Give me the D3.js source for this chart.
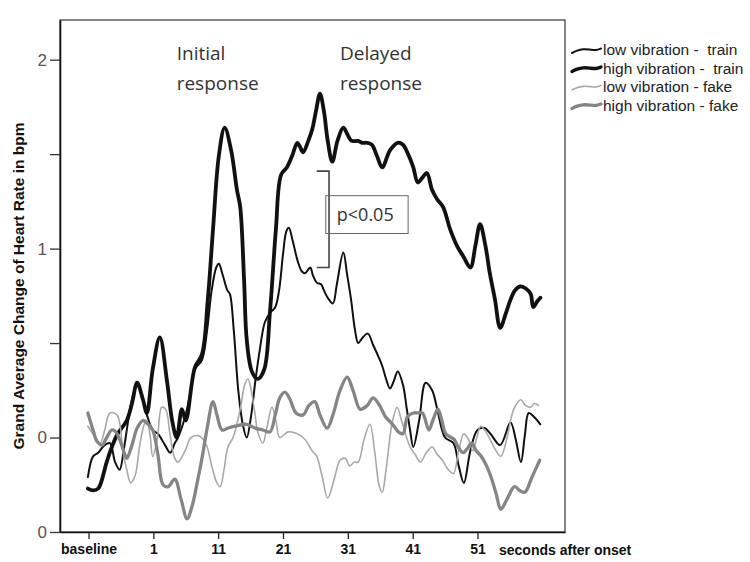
<!DOCTYPE html>
<html>
<head>
<meta charset="utf-8">
<script src="https://cdn.jsdelivr.net/npm/d3@7"></script>
<style>
  body { margin: 0; background: #fff; }
  svg { display: block; }
</style>
</head>
<body>
<script>
// [seconds, change in bpm]
const lowTrain = [
  [-9.1, -0.21], [-8.3, -0.10], [-7.5, -0.08], [-6.5, -0.04], [-5.7, -0.03], [-4.9, -0.13],
  [-4.2, -0.17], [-3.5, -0.05], [-2.6, 0.15], [-2.0, 0.24], [-1.4, 0.28], [-0.6, 0.20],
  [0.0, 0.12], [0.9, 0.04], [1.7, 0.02], [2.8, -0.04], [3.6, -0.08], [4.3, -0.03],
  [4.8, 0.00], [5.9, 0.11], [6.6, 0.22], [7.4, 0.36], [8.5, 0.41], [9.3, 0.57],
  [10.0, 0.78], [10.7, 0.90], [11.1, 0.92], [11.7, 0.86], [12.4, 0.78], [12.8, 0.76],
  [13.4, 0.57], [14.1, 0.25], [14.8, 0.07], [15.4, 0.00], [16.1, 0.12], [16.7, 0.29],
  [17.4, 0.46], [18.2, 0.61], [19.0, 0.66], [19.8, 0.69], [20.4, 0.78], [21.0, 0.97],
  [21.5, 1.09], [21.9, 1.11], [22.5, 1.04], [23.3, 0.93], [23.9, 0.88], [24.4, 0.87],
  [25.2, 0.90], [25.6, 0.86], [26.2, 0.82], [26.9, 0.81], [27.3, 0.78], [27.9, 0.74],
  [28.7, 0.71], [29.3, 0.81], [30.3, 0.98], [30.9, 0.86], [31.5, 0.73], [32.1, 0.57],
  [32.6, 0.50], [33.3, 0.53], [34.1, 0.55], [34.9, 0.49], [35.7, 0.43], [36.3, 0.38],
  [36.9, 0.31], [37.5, 0.26], [38.1, 0.30], [38.7, 0.35], [39.5, 0.28], [40.1, 0.15],
  [40.6, 0.04], [41.1, -0.05], [42.0, 0.09], [43.0, 0.29], [44.0, 0.25], [44.8, 0.15],
  [46.0, 0.00], [47.3, -0.03], [48.1, -0.15], [48.9, -0.24], [49.9, -0.07], [51.0, 0.04],
  [52.1, 0.05], [53.0, 0.02], [54.5, -0.04], [56.1, 0.08], [56.9, -0.01], [57.7, -0.13],
  [58.3, 0.01], [58.9, 0.13], [59.7, 0.11], [60.7, 0.07]
];

const highTrain = [
  [-9.1, -0.27], [-8.3, -0.28], [-7.5, -0.27], [-6.2, -0.13], [-5.4, -0.05], [-4.5, 0.02],
  [-3.1, 0.09], [-2.3, 0.18], [-1.5, 0.29], [-0.6, 0.20], [0.0, 0.13], [0.9, 0.36],
  [2.0, 0.53], [3.1, 0.30], [3.9, 0.09], [4.6, 0.00], [5.4, 0.15], [6.0, 0.09],
  [7.4, 0.37], [8.5, 0.44], [9.4, 0.73], [10.2, 1.10], [11.1, 1.49], [12.0, 1.64],
  [13.0, 1.52], [13.9, 1.31], [14.4, 1.22], [15.0, 0.83], [15.4, 0.52], [16.2, 0.35],
  [17.1, 0.31], [18.1, 0.36], [19.0, 0.67], [19.9, 1.10], [20.7, 1.39], [21.6, 1.43],
  [22.4, 1.49], [23.2, 1.56], [23.6, 1.54], [24.1, 1.51], [24.9, 1.57], [25.5, 1.63],
  [26.1, 1.73], [26.7, 1.82], [27.3, 1.73], [27.9, 1.57], [28.6, 1.46], [29.4, 1.57],
  [30.3, 1.64], [31.0, 1.60], [31.6, 1.57], [32.6, 1.57], [33.2, 1.56], [34.0, 1.56],
  [34.7, 1.55], [35.5, 1.49], [36.3, 1.43], [37.5, 1.52], [38.7, 1.56], [39.5, 1.55],
  [40.3, 1.50], [41.1, 1.43], [41.8, 1.35], [42.6, 1.38], [43.2, 1.40], [44.0, 1.31],
  [44.8, 1.26], [45.7, 1.22], [46.8, 1.10], [47.9, 1.01], [48.8, 0.96], [49.9, 0.90],
  [50.7, 1.02], [51.4, 1.13], [52.2, 1.02], [52.9, 0.87], [53.7, 0.73], [54.5, 0.58],
  [55.3, 0.65], [56.1, 0.73], [56.8, 0.78], [57.6, 0.80], [58.4, 0.79], [59.2, 0.76],
  [59.6, 0.69], [60.2, 0.72], [60.7, 0.74]
];

const lowFake = [
  [-9.1, 0.06], [-8.3, 0.02], [-7.2, -0.03], [-6.5, 0.04], [-5.7, 0.13], [-4.6, 0.12],
  [-3.7, -0.07], [-3.1, -0.17], [-2.5, -0.24], [-1.8, -0.20], [-1.1, -0.04], [-0.4, 0.07],
  [0.0, 0.09], [0.5, 0.01], [0.9, -0.10], [1.6, -0.01], [2.3, 0.16], [2.9, 0.15],
  [3.6, 0.01], [4.3, -0.11], [4.8, -0.13], [5.9, -0.07], [6.8, 0.00], [7.9, 0.01],
  [8.7, -0.01], [9.3, -0.05], [10.0, -0.15], [10.8, -0.24], [11.3, -0.26], [11.9, -0.17],
  [12.5, -0.05], [13.3, 0.00], [14.4, 0.15], [15.1, 0.28], [15.6, 0.31], [16.1, 0.25],
  [16.7, 0.12], [17.1, 0.03], [17.9, -0.03], [18.5, 0.05], [19.3, 0.16], [19.9, 0.09],
  [20.5, 0.00], [21.8, 0.03], [23.2, 0.02], [24.4, -0.01], [25.5, -0.07], [26.2, -0.10],
  [27.0, -0.20], [27.9, -0.32], [28.9, -0.22], [29.8, -0.12], [30.6, -0.11], [31.3, -0.15],
  [32.0, -0.13], [32.6, -0.13], [33.5, -0.01], [34.4, 0.07], [35.2, -0.09], [35.8, -0.25],
  [36.3, -0.29], [36.9, -0.17], [37.8, 0.07], [38.6, 0.16], [39.2, 0.10], [39.8, 0.03],
  [40.6, -0.05], [41.4, -0.09], [42.2, -0.13], [43.1, -0.08], [44.0, -0.05], [44.8, -0.09],
  [45.6, -0.12], [46.5, -0.17], [47.3, -0.19], [48.1, -0.07], [48.9, 0.02], [49.6, -0.01],
  [50.3, -0.07], [50.9, 0.00], [51.5, 0.06], [52.1, 0.04], [52.8, 0.00], [53.7, -0.06],
  [54.6, -0.10], [55.5, -0.01], [56.6, 0.15], [57.7, 0.20], [58.4, 0.17], [59.2, 0.16],
  [59.8, 0.18], [60.4, 0.17]
];

const highFake = [
  [-9.1, 0.13], [-8.3, 0.04], [-7.7, -0.02], [-6.9, -0.04], [-6.2, 0.00], [-5.4, 0.04],
  [-4.8, 0.03], [-4.2, -0.01], [-3.5, -0.08], [-3.1, -0.11], [-2.3, -0.04], [-1.5, 0.05],
  [-0.6, 0.09], [0.2, 0.07], [0.9, 0.04], [1.7, -0.09], [2.5, -0.25], [3.3, -0.26],
  [4.3, -0.22], [5.3, -0.33], [6.2, -0.43], [7.0, -0.36], [7.7, -0.25], [8.5, -0.11],
  [9.3, 0.05], [10.2, 0.19], [10.8, 0.12], [11.6, 0.04], [12.5, 0.05], [13.6, 0.06],
  [15.4, 0.07], [16.7, 0.05], [17.9, 0.04], [19.0, 0.03], [19.8, 0.12], [20.5, 0.21],
  [21.3, 0.24], [22.1, 0.20], [23.0, 0.13], [24.1, 0.12], [25.0, 0.17], [25.9, 0.19],
  [26.7, 0.12], [27.8, 0.05], [28.7, 0.12], [29.8, 0.25], [30.9, 0.32], [31.8, 0.25],
  [32.9, 0.15], [34.0, 0.17], [34.9, 0.21], [35.9, 0.17], [36.8, 0.11], [37.9, 0.07],
  [38.8, 0.03], [39.5, 0.02], [40.2, 0.11], [41.1, 0.13], [41.8, 0.13], [42.5, 0.13],
  [43.5, 0.04], [44.1, 0.09], [44.9, 0.15], [45.5, 0.09], [46.1, 0.02], [47.4, -0.01],
  [48.0, -0.05], [48.8, -0.08], [49.4, -0.06], [50.1, -0.03], [50.8, -0.07], [51.6, -0.10],
  [52.4, -0.15], [53.1, -0.21], [53.9, -0.30], [54.6, -0.38], [55.5, -0.33], [56.7, -0.26],
  [57.5, -0.28], [58.3, -0.29], [59.4, -0.21], [60.6, -0.12]
];

const seriesNames = ["low vibration -  train", "high vibration -  train", "low vibration - fake", "high vibration - fake"];
const seriesColors = ["#111", "#111", "#a8a8a8", "#858585"];
const seriesWidths = [2, 3.8, 1.6, 3.3];

const xTickValues = [-9, 1, 11, 21, 31, 41, 51];
const xTickLabels = ["baseline", "1", "11", "21", "31", "41", "51"];
const yTickValues = [2, 1.5, 1, 0.5, 0, -0.5];
const yTickLabels = ["2", "", "1", "", "0", "0"];

const width = 750, height = 562;
const plotLeft = 60, plotRight = 565, plotTop = 20, plotBottom = 532;

const x = d3.scaleLinear().domain([-13.4, 64.5]).range([plotLeft, plotRight]);
const y = d3.scaleLinear().domain([-0.5, 2.21]).range([plotBottom, plotTop]);

const svg = d3.select("body").append("svg")
  .attr("width", width)
  .attr("height", height)
  .attr("font-family", "Arial, 'Liberation Sans', sans-serif");

// frame
svg.append("rect")
  .attr("x", plotLeft)
  .attr("y", plotTop)
  .attr("width", plotRight - plotLeft)
  .attr("height", plotBottom - plotTop)
  .attr("fill", "none")
  .attr("stroke", "#333")
  .attr("stroke-width", 1.2);

// x axis
const xAxis = d3.axisBottom(x)
  .tickValues(xTickValues)
  .tickFormat((d, i) => xTickLabels[i])
  .tickSize(7)
  .tickSizeOuter(0)
  .tickPadding(5);

svg.append("g")
  .attr("transform", `translate(0,${plotBottom})`)
  .call(xAxis)
  .call(g => g.select(".domain").attr("stroke", "#111").attr("stroke-width", 1.6))
  .call(g => g.selectAll(".tick line").attr("stroke", "#222").attr("stroke-width", 1.3))
  .call(g => g.selectAll(".tick text")
    .attr("font-size", 14)
    .attr("font-weight", "bold")
    .attr("fill", "#111"));

svg.append("text")
  .attr("x", 499)
  .attr("y", plotBottom + 23)
  .attr("font-size", 14)
  .attr("font-weight", "bold")
  .attr("fill", "#111")
  .text("seconds after onset");

// y axis
const yAxis = d3.axisLeft(y)
  .tickValues(yTickValues)
  .tickFormat((d, i) => yTickLabels[i])
  .tickSize(10)
  .tickSizeOuter(0)
  .tickPadding(3);

svg.append("g")
  .attr("transform", `translate(${plotLeft},0)`)
  .call(yAxis)
  .call(g => g.select(".domain").attr("stroke", "#111").attr("stroke-width", 1.6))
  .call(g => g.selectAll(".tick line").attr("stroke", "#333").attr("stroke-width", 1.3))
  .call(g => g.selectAll(".tick text")
    .attr("font-size", 17)
    .attr("fill", "#555"));

svg.append("text")
  .attr("transform", `translate(19,${(plotTop + plotBottom) / 2 + 10}) rotate(-90)`)
  .attr("text-anchor", "middle")
  .attr("dy", "0.35em")
  .attr("font-size", 15.5)
  .attr("font-weight", "bold")
  .attr("fill", "#111")
  .text("Grand Average Change of Heart Rate in bpm");

// lines
const line = d3.line()
  .x(d => x(d[0]))
  .y(d => y(d[1]))
  .curve(d3.curveCatmullRom.alpha(0.5));

const allSeries = [lowTrain, highTrain, lowFake, highFake];

svg.append("g")
  .selectAll("path")
  .data(allSeries)
  .join("path")
  .attr("d", d => line(d))
  .attr("fill", "none")
  .attr("stroke", (d, i) => seriesColors[i])
  .attr("stroke-width", (d, i) => seriesWidths[i])
  .attr("stroke-linejoin", "round")
  .attr("stroke-linecap", "round");

// annotations
const noteFont = "'Open Sans', 'Noto Sans', sans-serif";
const notes = [
  { t: 4.6, v: 2.00, text: "Initial" },
  { t: 4.6, v: 1.84, text: "response" },
  { t: 29.8, v: 2.00, text: "Delayed" },
  { t: 29.8, v: 1.84, text: "response" }
];

svg.append("g")
  .selectAll("text")
  .data(notes)
  .join("text")
  .attr("x", d => x(d.t))
  .attr("y", d => y(d.v))
  .attr("font-family", noteFont)
  .attr("font-size", 19)
  .attr("fill", "#333")
  .text(d => d.text);

// significance bracket and box
const bracket = { t0: 26.2, t1: 28.1, vTop: 1.41, vBottom: 0.90 };
svg.append("path")
  .attr("d", `M${x(bracket.t0)},${y(bracket.vTop)}H${x(bracket.t1)}V${y(bracket.vBottom)}H${x(bracket.t0)}`)
  .attr("fill", "none")
  .attr("stroke", "#444")
  .attr("stroke-width", 1.6);

const box = { t0: 27.6, t1: 40.3, vTop: 1.28, vBottom: 1.08 };
svg.append("rect")
  .attr("x", x(box.t0))
  .attr("y", y(box.vTop))
  .attr("width", x(box.t1) - x(box.t0))
  .attr("height", y(box.vBottom) - y(box.vTop))
  .attr("fill", "none")
  .attr("stroke", "#666")
  .attr("stroke-width", 1);

svg.append("text")
  .attr("x", x(box.t0) + 11)
  .attr("y", (y(box.vTop) + y(box.vBottom)) / 2)
  .attr("dy", "0.36em")
  .attr("font-family", noteFont)
  .attr("font-size", 18)
  .attr("fill", "#333")
  .text("p<0.05");

// legend
const legendX = 572, legendY = 50, legendStep = 18.5;
const swatch = [[0, 3], [5, 0.5], [11, -1], [18, -0.5], [24, 0.5], [29, -1.5]];
const swatchLine = d3.line().curve(d3.curveBasis);

const legend = svg.append("g")
  .selectAll("g")
  .data(seriesNames)
  .join("g")
  .attr("transform", (d, i) => `translate(${legendX},${legendY + i * legendStep})`);

legend.append("path")
  .attr("d", swatchLine(swatch))
  .attr("fill", "none")
  .attr("stroke", (d, i) => seriesColors[i])
  .attr("stroke-width", (d, i) => Math.min(seriesWidths[i], 3.4))
  .attr("stroke-linecap", "round");

legend.append("text")
  .attr("x", 31)
  .attr("dy", "0.35em")
  .attr("font-size", 15.5)
  .attr("fill", "#222")
  .style("white-space", "pre")
  .text(d => d);
</script>
</body>
</html>
